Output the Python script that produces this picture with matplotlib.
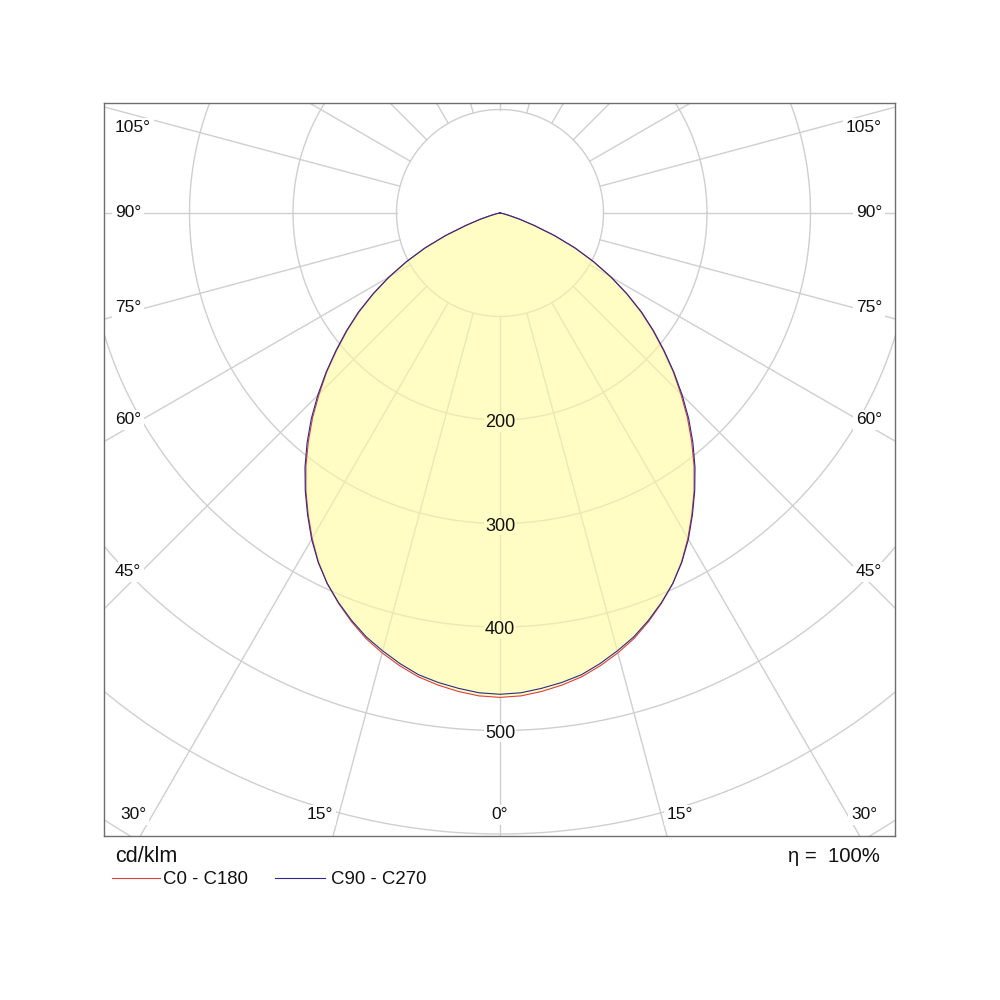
import numpy as np
import matplotlib
matplotlib.use("Agg")
import matplotlib.pyplot as plt

plt.rcParams['font.family'] = ['Liberation Sans', 'DejaVu Sans']

# ---- data (cd/klm), every 2.5 degrees ----
angles = [0, 2.5, 5, 7.5, 10, 12.5, 15, 17.5, 20, 22.5, 25, 27.5, 30, 32.5, 35, 37.5,
          40, 42.5, 45, 47.5, 50, 52.5, 55, 57.5, 60, 62.5, 65, 67.5, 70, 72.5, 75,
          77.5, 80, 82.5, 85, 87.5, 90]
c0_c180 = [468, 467, 464, 460, 455, 448, 440, 431, 420, 408, 395, 380, 363, 345, 327, 308,
           288, 268, 247, 227, 206, 186, 166, 145, 124, 102, 80, 57, 35, 20, 9,
           4, 2, 1, 0, 0, 0]
c90_c270 = [465, 464, 461, 457.5, 453, 446, 438, 429.5, 419, 407.5, 395, 380.5, 364, 346, 328, 309.5,
            290, 270, 249, 228, 207, 187, 167, 145.5, 124, 102, 80, 57, 35, 20, 9,
            4, 2, 1, 0, 0, 0]
rings = [100, 200, 300, 400, 500, 600, 700, 800]
ring_labels = [200, 300, 400, 500]
side_labels = ["105°", "90°", "75°", "60°", "45°"]
bottom_labels = ["30°", "15°", "0°", "15°", "30°"]
series_names = ["C0 - C180", "C90 - C270"]
efficiency = "η =  100%"
unit = "cd/klm"

# ---- geometry helpers (pixel layout of the reference) ----
S = 1.035          # pixels per cd/klm
CX, CY = 500, 213  # pixel position of the origin


def px(xp, yp):
    return (xp - CX) / S, (CY - yp) / S


fig = plt.figure(figsize=(10, 10), dpi=100)
ax = fig.add_axes([104 / 1000, (1000 - 836) / 1000, 791 / 1000, 733 / 1000])
x0, _ = px(104, 0)
x1, _ = px(895, 0)
_, y0 = px(0, 836)
_, y1 = px(0, 103)
ax.set_xlim(x0, x1)
ax.set_ylim(y0, y1)
ax.set_xticks([])
ax.set_yticks([])
for sp in ax.spines.values():
    sp.set_color('#6e6e6e')
    sp.set_linewidth(1.0)

grid_c = '#cfcfcf'
# circles
t = np.linspace(0, 2 * np.pi, 721)
for r in rings:
    ax.plot(r * np.cos(t), r * np.sin(t), color=grid_c, lw=1.0, zorder=1)
# radial lines every 15 deg starting at r=100
for k in range(-12, 12):
    a = np.deg2rad(k * 15)
    ax.plot([100 * np.sin(a), 900 * np.sin(a)], [-100 * np.cos(a), -900 * np.cos(a)],
            color=grid_c, lw=1.0, zorder=1)

# ---- curves ----
ang = np.array(angles, dtype=float)


def full_curve(vals):
    v = np.array(vals, dtype=float)
    th = np.concatenate([-ang[::-1], ang[1:]])
    rr = np.concatenate([v[::-1], v[1:]])
    th = np.deg2rad(th)
    return rr * np.sin(th), -rr * np.cos(th)


xr, yr = full_curve(c0_c180)
xb, yb = full_curve(c90_c270)
ax.fill(xr, yr, color=(1.0, 0.98, 0.62), alpha=0.6, lw=0, zorder=2)
ax.plot(xr, yr, color='#d9423f', lw=0.8, zorder=4)
ax.plot(xb, yb, color='#2c2c8c', lw=0.8, zorder=4)

# ---- ring value labels ----
for v in ring_labels:
    fc = '#fffcc4' if v < 470 else 'white'
    ax.text(0, -v - 2.5, str(v), ha='center', va='center', fontsize=13, color='#111111',
            bbox=dict(boxstyle='square,pad=0.05', fc=fc, ec='none'), zorder=5)

# ---- angle labels ----
side_y = [128, 212.5, 308, 420, 572]
for lab, yp in zip(side_labels, side_y):
    xl, yl = px(115, yp)
    ax.text(xl, yl, lab, ha='left', va='center', fontsize=12.5, color='#111111',
            bbox=dict(boxstyle='square,pad=0.15', fc='white', ec='none'), zorder=5)
    xr_, yr_ = px(882, yp)
    ax.text(xr_, yr_, lab, ha='right', va='center', fontsize=12.5, color='#111111',
            bbox=dict(boxstyle='square,pad=0.15', fc='white', ec='none'), zorder=5)
bottom_x = [133, 320, 500, 680, 864]
for lab, xp in zip(bottom_labels, bottom_x):
    xl, yl = px(xp, 815)
    ax.text(xl, yl, lab, ha='center', va='center', fontsize=12.5, color='#111111',
            bbox=dict(boxstyle='square,pad=0.15', fc='white', ec='none'), zorder=5)

# ---- footer ----
fig.text(115 / 1000, 1 - 857 / 1000, unit, ha='left', va='center', fontsize=15.5, color='#111111')
fig.text(880 / 1000, 1 - 857 / 1000, efficiency, ha='right', va='center', fontsize=14.6, color='#111111')
fig.lines.append(plt.Line2D([112 / 1000, 160 / 1000], [1 - 878 / 1000] * 2, color='#d9423f', lw=0.8,
                            transform=fig.transFigure))
fig.text(163 / 1000, 1 - 879 / 1000, series_names[0], ha='left', va='center', fontsize=13.4, color='#111111')
fig.lines.append(plt.Line2D([275 / 1000, 325 / 1000], [1 - 878 / 1000] * 2, color='#2c2c8c', lw=0.8,
                            transform=fig.transFigure))
fig.text(331 / 1000, 1 - 879 / 1000, series_names[1], ha='left', va='center', fontsize=13.4, color='#111111')

fig.savefig('out.png', dpi=100, facecolor='white')
